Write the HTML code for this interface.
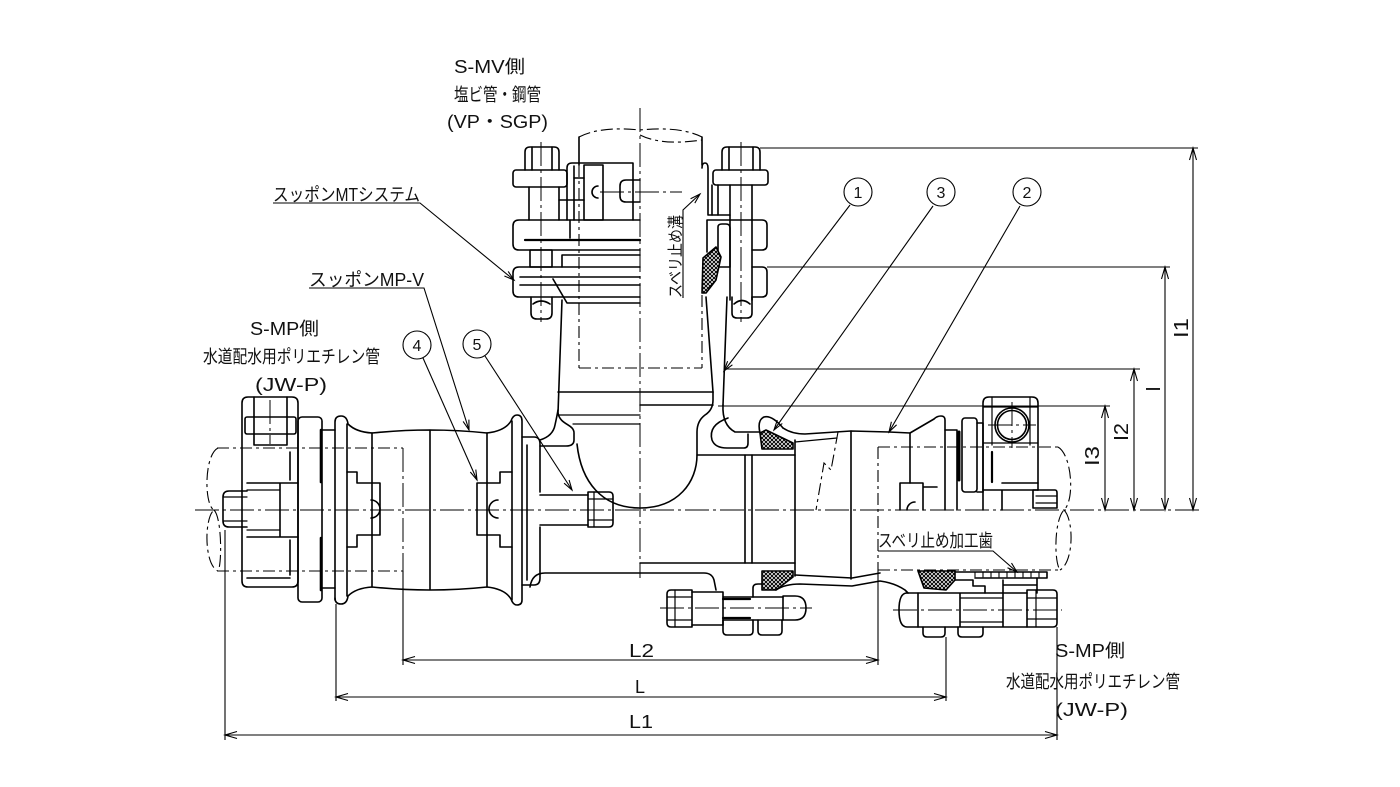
<!DOCTYPE html>
<html><head><meta charset="utf-8">
<style>
html,body{margin:0;padding:0;background:#fff;}
svg{display:block}
text{font-family:"Liberation Sans","Noto Sans CJK JP",sans-serif;fill:#111;stroke:none;}
</style></head><body>
<svg width="1400" height="787" viewBox="0 0 1400 787" xmlns="http://www.w3.org/2000/svg">
<defs>
<pattern id="hx" width="4" height="4" patternUnits="userSpaceOnUse"><rect width="4" height="4" fill="#fff"/><path d="M0,0L4,4M4,0L0,4" stroke="#000" stroke-width="1"/></pattern>
</defs>
<rect width="1400" height="787" fill="#fff"/>

<!-- centerlines -->
<g fill="none" stroke="#000" stroke-width="1" stroke-dasharray="24 4 3 4">
<line x1="195" y1="510" x2="1200" y2="510"/>
<line x1="640" y1="108" x2="640" y2="578"/>
<line x1="541" y1="142" x2="541" y2="322"/>
<line x1="741" y1="142" x2="741" y2="322"/>
<line x1="660" y1="608" x2="812" y2="608"/>
<line x1="893" y1="610" x2="1062" y2="610"/>
<line x1="270" y1="400" x2="270" y2="444"/>
<line x1="1012" y1="402" x2="1012" y2="448"/>
<line x1="988" y1="425" x2="1036" y2="425"/>
<line x1="600" y1="192" x2="682" y2="192"/>
<line x1="403" y1="448" x2="403" y2="571"/>
</g>

<!-- phantom pipes -->
<g fill="none" stroke="#000" stroke-width="1.1" stroke-dasharray="12 4 3 4">
<line x1="579" y1="165" x2="579" y2="368"/>
<line x1="702" y1="295" x2="702" y2="368"/>
<line x1="579" y1="368" x2="702" y2="368"/>
<path d="M579,137 Q600,126 640,130 Q680,126 702,137 M640,135 Q662,146 702,140"/>
<line x1="217" y1="448" x2="403" y2="448"/>
<line x1="217" y1="571" x2="403" y2="571"/>
<path d="M218,448 C204,455 204,505 214,510 C204,518 204,565 218,571 M214,510 C222,518 222,565 218,571"/>
<line x1="878" y1="447" x2="1058" y2="447"/>
<line x1="878" y1="570" x2="1058" y2="570"/>
<line x1="878" y1="447" x2="878" y2="570"/>
<path d="M1058,447 C1072,455 1075,500 1064,510 C1054,520 1054,562 1060,570 M1064,510 C1074,520 1074,562 1060,570"/>
<path d="M838,432 L831,470 L824,463 L816,510"/>
</g>

<g fill="none" stroke="#000" stroke-width="1.6" stroke-linejoin="round" stroke-linecap="round">
<!-- top pipe solid edges -->
<path d="M579,137 V165 M702,137 V165"/>

<!-- top-left assembly -->
<path d="M525,170 V152 Q525,147 530,147 H554 Q559,147 559,152 V170"/>
<path d="M532,147 V170 M552,147 V170"/>
<rect x="513" y="170" width="54" height="17" rx="3"/>
<path d="M529,187 V220 M559,187 V220"/>
<path d="M567,220 V168 Q567,163 572,163 H633 V220"/>
<path d="M574,166 V220"/>
<rect x="584" y="165" width="19" height="55"/>
<path d="M598,186 A6,6 0 0 0 598,198"/>
<path d="M584,178 H574 M559,200 H584"/>
<path d="M640,180 H626 Q620,180 620,186 V196 Q620,202 626,202 H640"/>
<path d="M640,220 H519 Q513,220 513,226 V244 Q513,250 519,250 H640"/>
<path d="M570,220 V238"/>
<line x1="525" y1="240" x2="640" y2="240" stroke-width="2.2"/>
<rect x="530" y="250" width="22" height="17"/>
<path d="M562,267 V255 H640"/>
<path d="M640,267 H519 Q513,267 513,273 V291 Q513,297 519,297 H640"/>
<path d="M520,277 H640 M520,285 H640"/>
<path d="M553,279 L567,303 H640"/>
<path d="M531,297 V313 Q531,319 537,319 H546 Q552,319 552,313 V297"/>
<path d="M533,304 Q541,298 550,304"/>

<!-- top-right assembly -->
<path d="M722,170 V152 Q722,147 727,147 H755 Q760,147 760,152 V170"/>
<path d="M729,147 V170 M753,147 V170"/>
<rect x="713" y="170" width="55" height="15" rx="3"/>
<path d="M730,185 V300 M752,185 V300"/>
<path d="M730,220 H762 Q767,220 767,225 V245 Q767,250 762,250 H752"/>
<path d="M752,267 H762 Q767,267 767,272 V292 Q767,297 762,297 H752"/>
<path d="M732,297 V313 Q732,318 737,318 H747 Q752,318 752,313 V297"/>
<path d="M734,304 Q742,297 750,304"/>
<path d="M702,168 Q702,163 705,163 Q708,163 708,168 V215 H730"/>
<path d="M712,185 V215 M718,185 V215"/>
<path d="M707,220 H730 M707,220 V252"/>
<path d="M718,227 Q718,224 722,224 H726 Q730,224 730,228 V267 H718 Z"/>
<path d="M703,258 L716,247 L721,257 L716,280 L706,293 L702,293 Z" fill="url(#hx)"/>

<!-- neck -->
<path d="M562,300 L558,413"/>
<path d="M727,297 L723,405"/>
<path d="M706,297 L713,392"/>

<!-- T body -->
<path d="M540,440 Q553,436 555,425 Q557,416 558,410"/>
<path d="M558,413 C560,425 574,424 574,433 V440 Q574,446 566,446 H540"/>
<path d="M558,392 H713 M640,405 H713"/>
<path d="M558,415 H640 M573,424 H640" stroke-width="1.2"/>
<path d="M577,444 C581,482 602,508 640,508 C678,508 697,482 697,455"/>
<path d="M713,392 V400 Q713,410 705,415 Q697,421 697,432 V455 H795"/>
<path d="M723,405 Q722,425 735,432 H760"/>
<path d="M728,418 Q708,425 712,440 Q715,448 727,448 H744 Q748,448 748,443 V434"/>
<path d="M745,455 V563 M752,455 V563 M795,440 V576"/>
<path d="M640,563 H795"/>
<path d="M530,587 Q532,573 545,573 H704 Q712,573 714,580 L716,590"/>

<!-- gaskets + barrel right -->
<path d="M760,433 L766,430 L793,443 V449 H762 Z" fill="url(#hx)"/>
<path d="M760,433 Q757,420 764,417 Q772,415 783,428"/>
<path d="M783,428 Q792,434 805,434 L851,431 L889,432"/>
<path d="M795,442 L837,438" stroke-width="1.2"/>
<path d="M851,431 V579"/>
<path d="M762,571 H793 V577 L776,590 H762 Z" fill="url(#hx)"/>
<path d="M753,597 V588 Q753,584 758,584 H762"/>
<path d="M795,575 L852,578 L880,573"/>
<path d="M776,590 Q785,584 800,584 L852,586 L880,581 Q895,583 905,590 L908,593"/>

<!-- right coupling -->
<path d="M889,432 L910,433 L934,419 Q937,416 941,416 Q945,416 945,420 V510"/>
<path d="M910,433 V483"/>
<path d="M900,510 V483 H923 V510 M923,487 H937"/>
<path d="M915,502 A8,8 0 0 0 907,510"/>
<path d="M945,430 H957 V510"/>
<line x1="959" y1="432" x2="959" y2="480" stroke-width="3"/>
<rect x="962" y="418" width="15" height="74" rx="3"/>
<path d="M977,423 H983 V492 H977"/>
<path d="M983,490 V403 Q983,397 989,397 H1032 Q1038,397 1038,403 V490"/>
<path d="M992,397 V445 M1030,397 V445 M983,407 H1038 M983,443 H1038" stroke-width="1.2"/>
<circle cx="1012" cy="425" r="17"/><circle cx="1012" cy="425" r="14.5"/>
<line x1="992" y1="452" x2="992" y2="482" stroke-width="2.2"/>
<path d="M983,490 H1038 M983,510 V490 M1002,490 V510 M1002,483 H1038"/>
<path d="M1033,508 V490 H1055 Q1057,490 1057,493 V508 Z"/>
<path d="M1036,496 H1057 M1036,503 H1057" stroke-width="1.2"/>

<!-- lower right -->
<path d="M918,571 H955 V580 L946,590 L924,588 Z" fill="url(#hx)"/>
<path d="M955,572 H1047 V578 H975"/>
<path d="M975,572 V577 M983,572 V577 M991,572 V577 M999,572 V577 M1007,572 V577 M1015,572 V577 M1023,572 V577 M1031,572 V577 M1039,572 V577" stroke-width="1.1"/>
<path d="M955,580 H973 V586 H985 V593 M1003,580 V593 M1003,585 H1037 V593 M1037,578 V585"/>
<path d="M918,593 H907 Q899,593 899,610 Q899,627 907,627 H918"/>
<path d="M918,593 H1027 M918,627 H1027 M918,593 V627 M960,593 V627 M1003,593 V627"/>
<path d="M960,598 H1003 M960,622 H1003" stroke-width="1.2"/>
<path d="M1027,590 H1053 Q1057,590 1057,594 V623 Q1057,627 1053,627 H1027 Z"/>
<path d="M1027,598 H1057 M1027,619 H1057 M1036,590 V627" stroke-width="1.2"/>
<path d="M923,627 V633 Q923,637 927,637 H941 Q945,637 945,633 V627"/>
<path d="M958,627 V633 Q958,637 962,637 H979 Q983,637 983,633 V627"/>

<!-- lower left bolt -->
<path d="M671,590 H692 V627 H671 Q667,627 667,623 V594 Q667,590 671,590 Z"/>
<path d="M667,597 H692 M667,620 H692 M675,590 V627" stroke-width="1.2"/>
<path d="M692,592 H723 V625 H692"/>
<path d="M723,597 H783 M723,620 H783"/>
<line x1="723" y1="599" x2="750" y2="599" stroke-width="2.2"/>
<line x1="723" y1="618" x2="750" y2="618" stroke-width="2.2"/>
<path d="M783,596 H795 Q806,596 806,608 Q806,620 795,620 H783 V596"/>
<path d="M723,620 V631 Q723,635 727,635 H749 Q753,635 753,631 V620"/>
<path d="M758,620 V631 Q758,635 762,635 H778 Q782,635 782,631 V620"/>

<!-- left coupling -->
<path d="M248,397 H292 Q298,397 298,403 V581 Q298,587 292,587 H248 Q242,587 242,581 V403 Q242,397 248,397 Z"/>
<rect x="245" y="417" width="51" height="17" rx="2"/>
<path d="M254,397 V445 M287,397 V445 M254,445 H287"/>
<path d="M290,452 V480 M290,540 V575"/>
<path d="M247,483 H280 V537 H247 M280,483 H298 M280,537 H298"/>
<path d="M247,490 H280 M247,530 H280" stroke-width="1.2"/>
<path d="M247,578 H290"/>
<path d="M247,491 H229 Q223,491 223,497 V521 Q223,527 229,527 H247"/>
<path d="M223,497 H247 M223,521 H247" stroke-width="1.2"/>
<rect x="298" y="417" width="24" height="185" rx="4"/>
<line x1="321" y1="430" x2="321" y2="482" stroke-width="2.6"/>
<line x1="321" y1="538" x2="321" y2="590" stroke-width="2.6"/>
<path d="M322,430 H335 M322,588 H335"/>
<path d="M335,600 V422 Q335,416 341,416 Q347,416 348,424 Q356,432 372,433"/>
<path d="M335,598 Q335,604 341,604 Q347,604 348,596 Q356,588 372,587"/>
<path d="M347,424 V596 M372,433 V587"/>
<path d="M347,472 H357 V483 H380 V535 H357 V547 H347"/>
<path d="M371,500 A9,9 0 0 1 371,518"/>
<path d="M372,433 Q430,427 487,433 M372,587 Q430,593 487,587 M430,430 V590"/>
<path d="M487,433 Q505,431 511,421 Q513,415 517,415 Q522,415 522,421 V600 Q522,605 517,605 Q513,605 511,599 Q505,589 487,587"/>
<path d="M487,433 V587 M512,421 V600"/>
<path d="M512,472 H500 V483 H477 V535 H500 V547 H512"/>
<path d="M498,500 A9,9 0 0 0 498,518"/>
<path d="M522,437 H534 Q540,437 540,444 V492 M540,527 V578 Q540,585 534,585 H522"/>
<path d="M527,445 V580"/>
<path d="M540,495 H588 M540,525 H588"/>
<path d="M588,492 H609 Q613,492 613,496 V523 Q613,527 609,527 H588 Z"/>
<path d="M588,499 H613 M588,520 H613 M594,492 V527" stroke-width="1.2"/>
</g>

<!-- thin lines: leaders, dims, extensions -->
<g fill="none" stroke="#000" stroke-width="1.1">
<!-- extension lines -->
<path d="M760,148 H1198 M767,267 H1170 M724,369 H1140 M718,406 H1110"/>
<path d="M225,530 V740 M336,604 V701 M403,571 V665 M878,570 V665 M946,637 V701 M1057,627 V740"/>
<!-- dims -->
<path d="M403,660 H878 M336,697 H946 M225,735 H1057"/>
<path d="M1105,406 V510 M1134,369 V510 M1165,267 V510 M1193,148 V510"/>
<!-- dim arrowheads -->
<path d="M415,656.5 L403,660 L415,663.5 M866,656.5 L878,660 L866,663.5"/>
<path d="M348,693.5 L336,697 L348,700.5 M934,693.5 L946,697 L934,700.5"/>
<path d="M237,731.5 L225,735 L237,738.5 M1045,731.5 L1057,735 L1045,738.5"/>
<path d="M1101.5,418 L1105,406 L1108.5,418 M1101.5,498 L1105,510 L1108.5,498"/>
<path d="M1130.5,381 L1134,369 L1137.5,381 M1130.5,498 L1134,510 L1137.5,498"/>
<path d="M1161.5,279 L1165,267 L1168.5,279 M1161.5,498 L1165,510 L1168.5,498"/>
<path d="M1189.5,160 L1193,148 L1196.5,160 M1189.5,498 L1193,510 L1196.5,498"/>
<!-- leaders -->
<path d="M273,203 H420 L514,280"/>
<path d="M504.4,276 L514,280 L508.2,271.4"/>
<path d="M309,288 H424 L469,430"/>
<path d="M463.1,421.4 L469,430 L468.9,419.6"/>
<path d="M423,358 L477,480"/>
<path d="M470.3,472 L477,480 L475.8,469.6"/>
<path d="M485,356 L572,490"/>
<path d="M564.1,483.2 L572,490 L569.1,480"/>
<path d="M850,205 L724,371"/>
<path d="M727.6,361.2 L724,371 L732.4,364.8"/>
<path d="M933,206 L774,430"/>
<path d="M777.3,420.1 L774,430 L782.3,423.5"/>
<path d="M1020,206 L889,432"/>
<path d="M891.4,421.8 L889,432 L896.6,424.8"/>
<path d="M878,551 H993 L1017,572"/>
<path d="M1007.5,567.7 L1017,572 L1011.5,563.1"/>
<path d="M683,298 V210 L700,194"/>
<path d="M694.8,203.1 L700,194 L690.6,198.7"/>
<!-- circles -->
<ellipse cx="858" cy="192" rx="14" ry="14"/>
<ellipse cx="941" cy="192" rx="14" ry="14"/>
<ellipse cx="1027" cy="192" rx="14" ry="14"/>
<ellipse cx="417" cy="345" rx="14" ry="14"/>
<ellipse cx="477" cy="344" rx="14" ry="14"/>
</g>

<!-- texts -->
<g font-size="18">
<text x="454" y="73" textLength="71" lengthAdjust="spacingAndGlyphs">S-MV側</text>
<text x="454" y="101" textLength="87" lengthAdjust="spacingAndGlyphs">塩ビ管・鋼管</text>
<text x="447" y="128" textLength="101" lengthAdjust="spacingAndGlyphs">(VP・SGP)</text>
<text x="273" y="201" textLength="147" lengthAdjust="spacingAndGlyphs">スッポンMTシステム</text>
<text x="309" y="286" textLength="115" lengthAdjust="spacingAndGlyphs">スッポンMP-V</text>
<text x="250" y="335" textLength="69" lengthAdjust="spacingAndGlyphs">S-MP側</text>
<text x="203" y="363" textLength="177" lengthAdjust="spacingAndGlyphs">水道配水用ポリエチレン管</text>
<text x="255" y="391" textLength="72" lengthAdjust="spacingAndGlyphs">(JW-P)</text>
<text x="1055" y="657" textLength="70" lengthAdjust="spacingAndGlyphs">S-MP側</text>
<text x="1006" y="688" textLength="174" lengthAdjust="spacingAndGlyphs">水道配水用ポリエチレン管</text>
<text x="1055" y="716" textLength="73" lengthAdjust="spacingAndGlyphs">(JW-P)</text>
<text x="878" y="547" textLength="115" lengthAdjust="spacingAndGlyphs">スベリ止め加工歯</text>
<text x="629" y="657" textLength="25" lengthAdjust="spacingAndGlyphs">L2</text>
<text x="635" y="693" textLength="10" lengthAdjust="spacingAndGlyphs">L</text>
<text x="629" y="728" textLength="24" lengthAdjust="spacingAndGlyphs">L1</text>
</g>
<text x="681" y="298" font-size="16" textLength="83" lengthAdjust="spacingAndGlyphs" transform="rotate(-90 681 298)">スベリ止め溝</text>
<g font-size="20" text-anchor="middle">
<text x="1188" y="328" transform="rotate(-90 1188 328)" textLength="20" lengthAdjust="spacingAndGlyphs">I1</text>
<text x="1160" y="389" transform="rotate(-90 1160 389)">I</text>
<text x="1128" y="432" transform="rotate(-90 1128 432)" textLength="18" lengthAdjust="spacingAndGlyphs">I2</text>
<text x="1099" y="456" transform="rotate(-90 1099 456)" textLength="20" lengthAdjust="spacingAndGlyphs">I3</text>
</g>
<g font-size="16" text-anchor="middle">
<text x="858" y="198">1</text>
<text x="941" y="198">3</text>
<text x="1027" y="198">2</text>
<text x="417" y="351">4</text>
<text x="477" y="350">5</text>
</g>
</svg>
</body></html>
